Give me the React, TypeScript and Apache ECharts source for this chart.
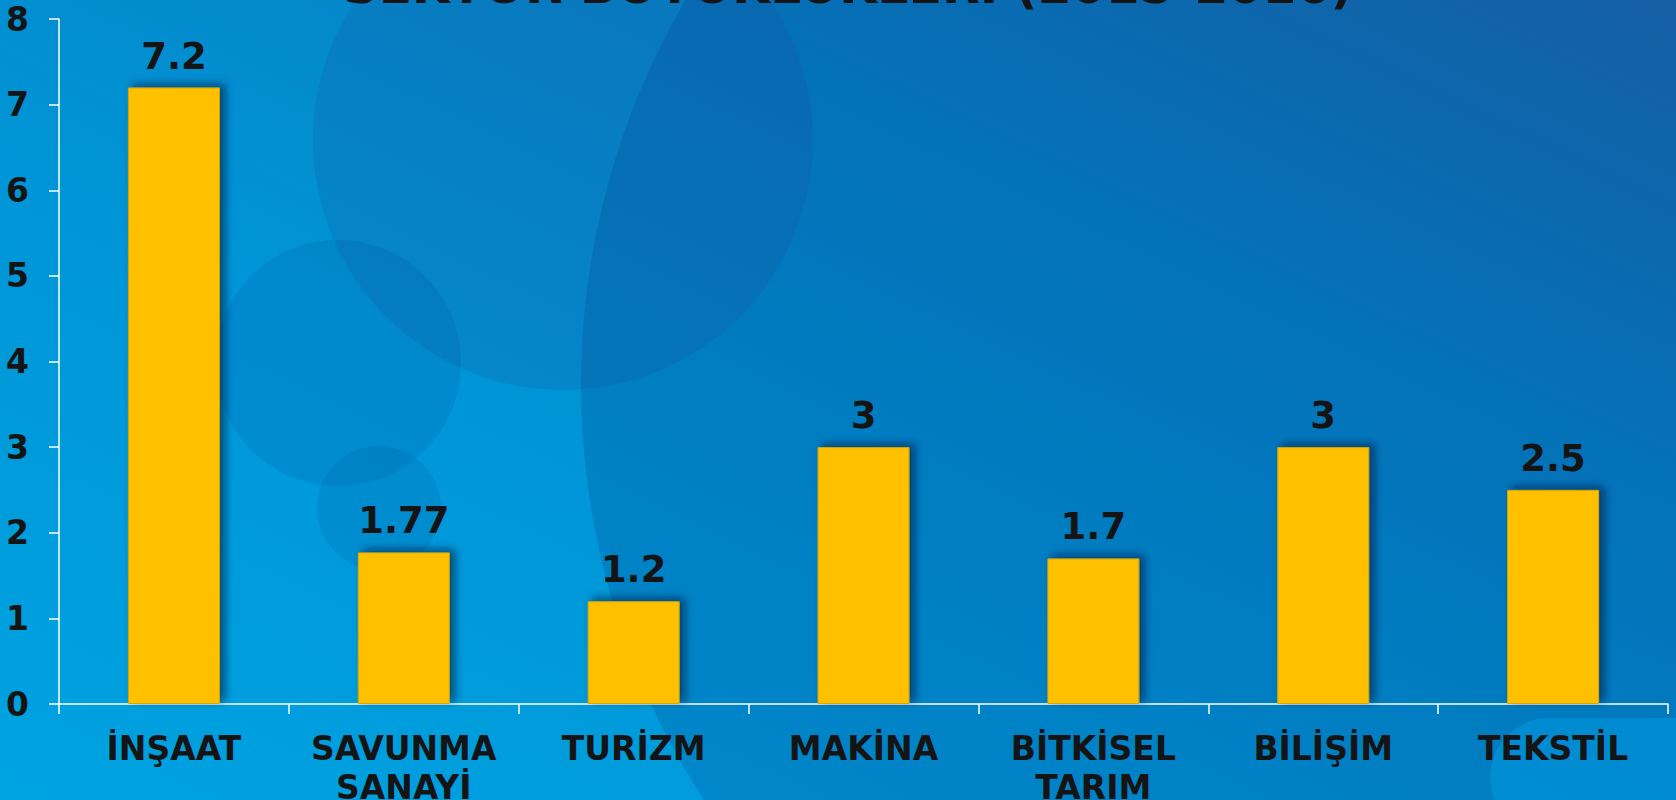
import React, { useEffect, useRef } from "react";
import * as echarts from "echarts";

const categories = ["İNŞAAT", "SAVUNMA\nSANAYİ", "TURİZM", "MAKİNA", "BİTKİSEL\nTARIM", "BİLİŞİM", "TEKSTİL"];
const values = [7.2, 1.77, 1.2, 3, 1.7, 3, 2.5];
const titleText = "SEKTÖR BÜYÜKLÜKLERİ (2015-2016)";
const FONT = "DejaVu Sans";

export default function App() {
  const ref = useRef<HTMLDivElement>(null);
  useEffect(() => {
    document.body.style.margin = "0";
    document.body.style.overflow = "hidden";
    const chart = echarts.init(ref.current!, null, { renderer: "svg" });
    chart.setOption({
      animation: false,
      backgroundColor: {
        type: "linear",
        x: 0, y: 1, x2: 1, y2: 0,
        colorStops: [
          { offset: 0, color: "#00A3E2" },
          { offset: 0.4, color: "#0095D6" },
          { offset: 0.7, color: "#0582C6" },
          { offset: 1, color: "#1B6AAD" },
        ],
      },
      graphic: [
        { type: "circle", z: -10, silent: true, shape: { cx: 1342, cy: 385, r: 761 }, style: { fill: "rgba(0,50,130,0.2)" } },
        { type: "circle", z: -9, silent: true, shape: { cx: 563, cy: 140, r: 250 }, style: { fill: "rgba(30,70,150,0.16)" } },
        { type: "circle", z: -9, silent: true, shape: { cx: 338, cy: 363, r: 123 }, style: { fill: "rgba(0,60,140,0.12)" } },
        { type: "circle", z: -9, silent: true, shape: { cx: 379, cy: 508, r: 62 }, style: { fill: "rgba(0,60,140,0.12)" } },
        { type: "rect", z: -9, silent: true, shape: { x: 1490, y: 718, width: 300, height: 120, r: 80 }, style: { fill: "rgba(0,160,230,0.45)" } },
        {
          type: "text", z: 10, x: 848, y: -14, silent: true,
          style: { text: titleText, font: `bold 49px '${FONT}'`, fill: "#141414", textAlign: "center", textVerticalAlign: "middle" },
        },
      ],
      grid: { left: 59, right: 8, top: 19, bottom: 96, containLabel: false, outerBoundsMode: "none" },
      xAxis: {
        type: "category",
        data: categories,
        axisLine: { lineStyle: { color: "#ffffff", width: 1.5 } },
        axisTick: { show: true, length: 10, lineStyle: { color: "#ffffff", width: 1.5 } },
        axisLabel: { color: "#141414", fontFamily: FONT, fontWeight: "bold", fontSize: 33, lineHeight: 39, margin: 25, interval: 0 },
      },
      yAxis: {
        type: "value",
        min: 0, max: 8, interval: 1,
        splitLine: { show: false },
        axisLine: { show: true, lineStyle: { color: "#ffffff", width: 1.5 } },
        axisTick: { show: true, length: 10, lineStyle: { color: "#ffffff", width: 1.5 } },
        axisLabel: { color: "#141414", fontFamily: FONT, fontWeight: "bold", fontSize: 33, margin: 30 },
      },
      series: [
        {
          type: "bar",
          data: values,
          barWidth: "40%",
          itemStyle: {
            color: "#FFC000",
            borderColor: "#D9A800",
            borderWidth: 1,
            shadowColor: "rgba(0,20,50,0.6)",
            shadowBlur: 9,
            shadowOffsetX: 5,
            shadowOffsetY: -3,
          },
          label: {
            show: true,
            position: "top",
            distance: 13,
            color: "#141414",
            fontFamily: FONT,
            fontWeight: "bold",
            fontSize: 37,
          },
        },
      ],
    });
    return () => chart.dispose();
  }, []);
  return <div ref={ref} style={{ width: 1676, height: 800 }} />;
}
